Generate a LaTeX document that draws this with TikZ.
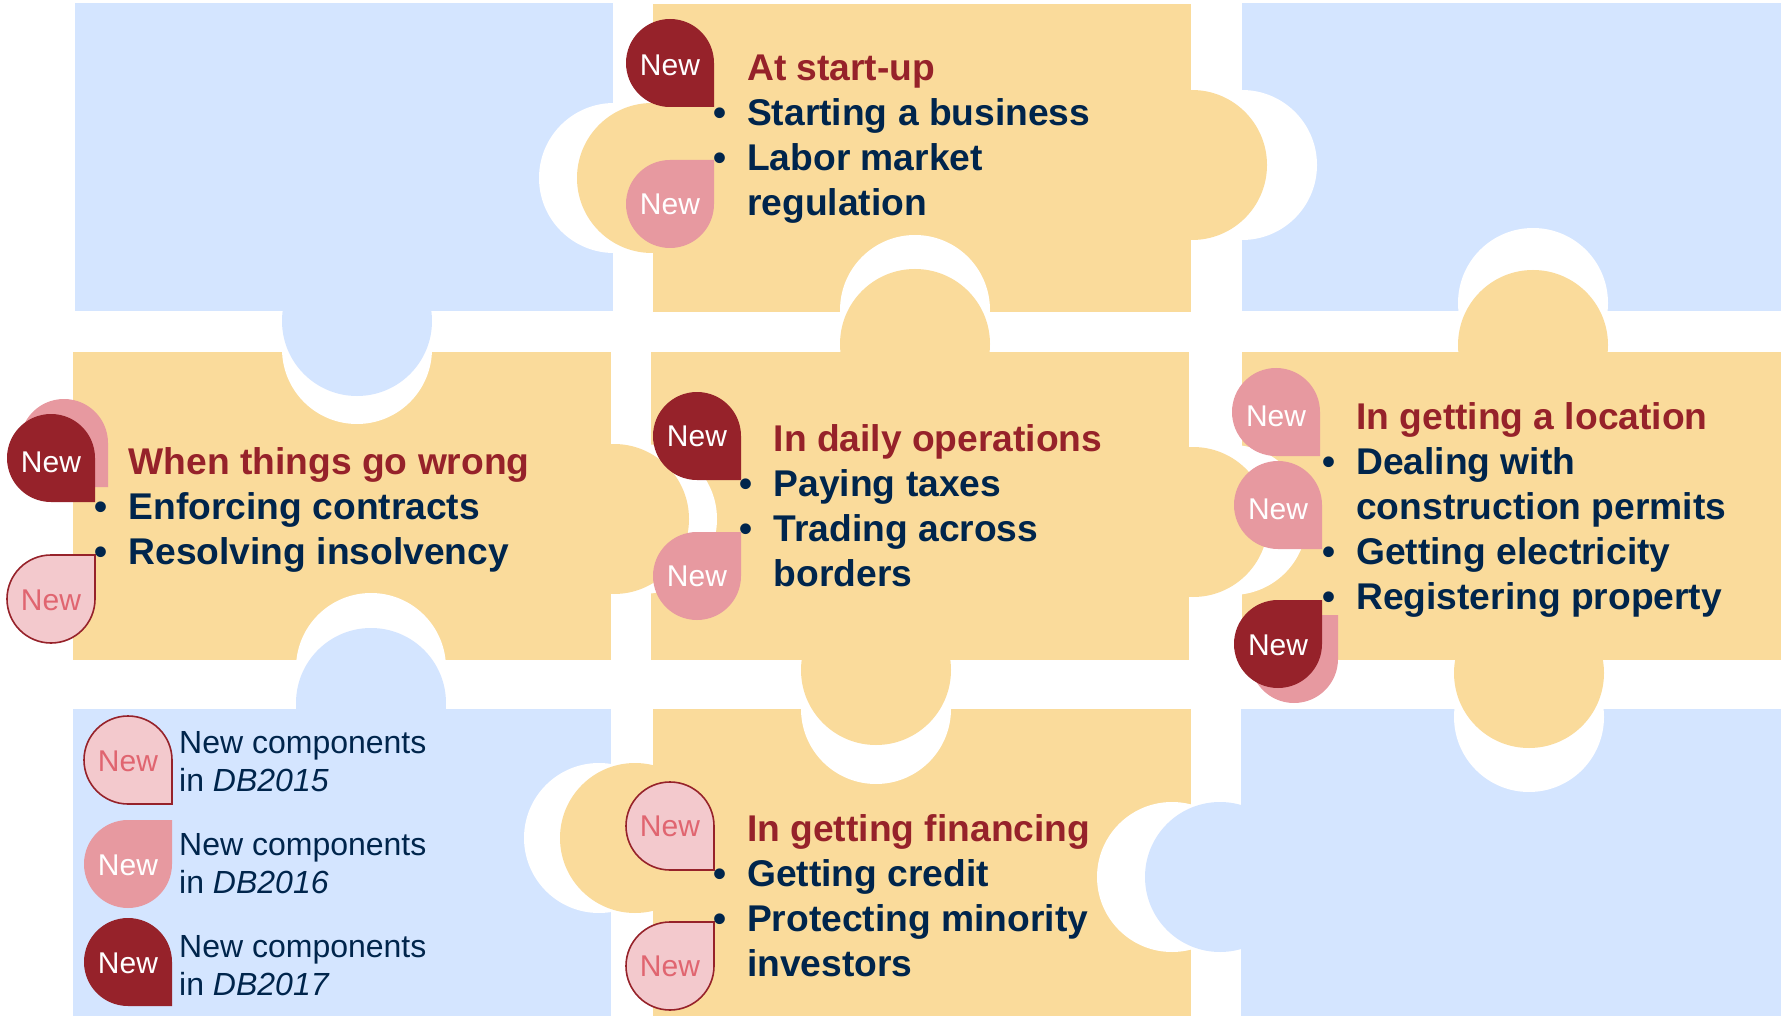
\documentclass[tikz,border=0pt]{standalone}
\usepackage{fontspec}
\setmainfont{Liberation Sans}
\usetikzlibrary{positioning}

\definecolor{pieceblue}{RGB}{212,229,255}
\definecolor{pieceorange}{RGB}{250,219,155}
\definecolor{darkred}{RGB}{150,34,42}
\definecolor{midpink}{RGB}{231,153,160}
\definecolor{palepink}{RGB}{243,201,205}
\definecolor{paletext}{RGB}{224,101,112}
\definecolor{navytext}{RGB}{0,37,76}

\tikzset{
  blueblock/.style={fill=pieceblue},
  orangeblock/.style={fill=pieceorange},
  bite/.style={fill=white},
  blockfont/.style={inner sep=0pt, anchor=north west, align=left, text=navytext,
    font=\fontsize{37.2}{45}\selectfont\bfseries},
  legendfont/.style={inner sep=0pt, anchor=north west, align=left, text=navytext,
    font=\fontsize{32}{38.3}\selectfont},
  badgedark/.style={fill=darkred},
  badgepink/.style={fill=midpink},
  badgepale/.style={fill=palepink, draw=darkred, line width=1.6pt},
  badgedark label/.style={text=white},
  badgepink label/.style={text=white},
  badgepale label/.style={text=paletext},
}

\newcommand{\blocktitle}[1]{\textcolor{darkred}{#1}}
\newcommand{\bul}{\llap{•\hspace{21pt}}}
% centre x, centre y, 1 = point down / -1 = point up, look
\newcommand{\badgeshape}[4]{
  \path[shift={(#1,#2)}, yscale=#3, #4] (44,44) -- (0,44)
    .. controls (-24.3,44) and (-44,24.3) .. (-44,0)
    .. controls (-44,-24.3) and (-24.3,-44) .. (0,-44)
    .. controls (24.3,-44) and (44,-24.3) .. (44,0) -- cycle;
}
% name, centre x, centre y, 1 = point down / -1 = point up, look, label y
\newcommand{\newbadge}[6]{
  \badgeshape{#2}{#3}{#4}{#5}
  \node[#5 label, inner sep=0pt, font=\fontsize{30}{36}\selectfont] (#1) at (#2,#6) {New};
}

\begin{document}
\begin{tikzpicture}[x=1pt,y=-1pt]
  \useasboundingbox (0,0) rectangle (1781,1016);

  % Blue corners
  \fill[blueblock] (75,3) rectangle (613,311);
  \fill[blueblock] (1242,3) rectangle (1781,311);
  \fill[blueblock] (73,709) rectangle (611,1016);
  \fill[blueblock] (1241,709) rectangle (1781,1016);

  % Orange pieces
  \fill[orangeblock] (653,4) rectangle (1191,312);
  \fill[orangeblock] (73,352) rectangle (611,660);
  \fill[orangeblock] (651,352) rectangle (1189,660);
  \fill[orangeblock] (1242,352) rectangle (1781,660);
  \fill[orangeblock] (653,709) rectangle (1191,1016);

  % Holes
  \fill[bite] (614,178) circle (75pt);
  \fill[bite] (1242,165) circle (75pt);
  \fill[bite] (915,310) circle (75pt);
  \fill[bite] (1533,303) circle (75pt);
  \fill[bite] (357,349) circle (75pt);
  \fill[bite] (371,668) circle (75pt);
  \fill[bite] (642,519) circle (75pt);
  \fill[bite] (1232,520) circle (75pt);
  \fill[bite] (876,709) circle (75pt);
  \fill[bite] (1529,717) circle (75pt);
  \fill[bite] (599,838) circle (75pt);
  \fill[bite] (1172,877) circle (75pt);

  % Knobs
  \fill[blueblock] (357,321) circle (75pt);
  \fill[blueblock] (371,703) circle (75pt);
  \fill[blueblock] (1220,877) circle (75pt);
  \fill[orangeblock] (652,178) circle (75pt);
  \fill[orangeblock] (1192,165) circle (75pt);
  \fill[orangeblock] (915,344) circle (75pt);
  \fill[orangeblock] (1533,345) circle (75pt);
  \fill[orangeblock] (614,519) circle (75pt);
  \fill[orangeblock] (1193,522) circle (75pt);
  \fill[orangeblock] (876,670) circle (75pt);
  \fill[orangeblock] (1529,673) circle (75pt);
  \fill[orangeblock] (635,838) circle (75pt);

  % Badges
  \newbadge{startA}{670}{63}{1}{badgedark}{65}
  \newbadge{startB}{670}{204}{-1}{badgepink}{204}
  \badgeshape{64}{443}{1}{badgepink}
  \newbadge{wrongA}{51}{458}{1}{badgedark}{462}
  \newbadge{wrongB}{51}{599}{-1}{badgepale}{600}
  \newbadge{dailyA}{697}{436}{1}{badgedark}{436}
  \newbadge{dailyB}{697}{576}{-1}{badgepink}{576}
  \newbadge{placeA}{1276}{412}{1}{badgepink}{416}
  \newbadge{placeB}{1278}{505}{1}{badgepink}{509}
  \badgeshape{1294}{659}{-1}{badgepink}
  \newbadge{placeC}{1278}{644}{-1}{badgedark}{645}
  \newbadge{fundA}{670}{826}{1}{badgepale}{826}
  \newbadge{fundB}{670}{966}{-1}{badgepale}{966}
  \newbadge{keyA}{128}{760}{1}{badgepale}{761}
  \newbadge{keyB}{128}{864}{-1}{badgepink}{865}
  \newbadge{keyC}{128}{962}{1}{badgedark}{963}

  % Block texts
  \node[blockfont] (startup) at (747,54.5) {\blocktitle{At start-up}\\\bul Starting a business\\\bul Labor market\\regulation};
  \node[blockfont] (wrong) at (128.5,447) {\blocktitle{When things go wrong}\\\bul Enforcing contracts\\\bul Resolving insolvency};
  \node[blockfont] (daily) at (773.5,424.5) {\blocktitle{In daily operations}\\\bul Paying taxes\\\bul Trading across\\borders};
  \node[blockfont] (place) at (1356,402) {\blocktitle{In getting a location}\\\bul Dealing with\\construction permits\\\bul Getting electricity\\\bul Registering property};
  \node[blockfont] (funding) at (747,814.5) {\blocktitle{In getting financing}\\\bul Getting credit\\\bul Protecting minority\\investors};

  % Legend
  \node[legendfont] (legendA) at (179,731) {New components\\in \textit{DB2015}};
  \node[legendfont] (legendB) at (179,833) {New components\\in \textit{DB2016}};
  \node[legendfont] (legendC) at (179,935) {New components\\in \textit{DB2017}};
\end{tikzpicture}
\end{document}
